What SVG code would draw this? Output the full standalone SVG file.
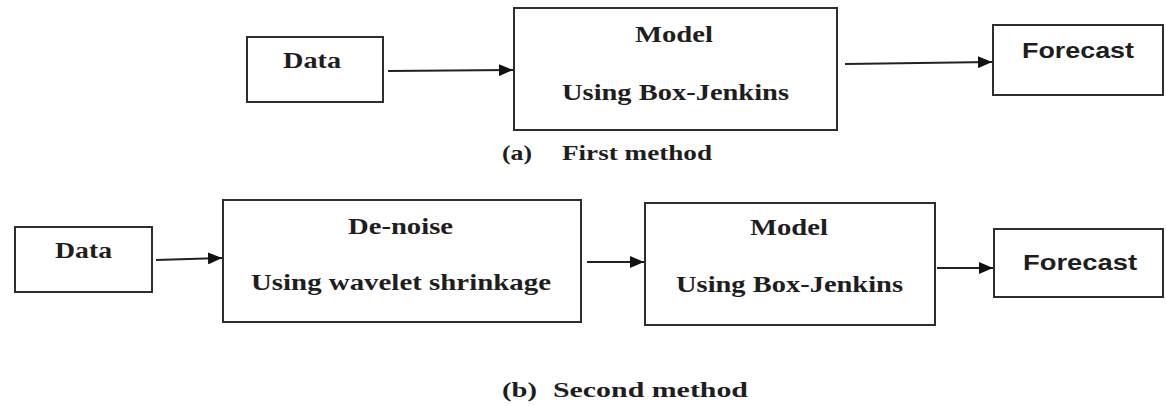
<svg xmlns="http://www.w3.org/2000/svg" width="1166" height="406" viewBox="0 0 1166 406">
  <style>
    .box { fill: #ffffff; stroke: #2e2e2e; stroke-width: 2; }
    .lbl { font-family: "Liberation Serif", "Times New Roman", serif; font-weight: bold; font-size: 23.5px; fill: #1e1e1e; }
    .sans { font-family: "Liberation Sans", Arial, sans-serif; font-weight: bold; font-size: 22.5px; fill: #1e1e1e; }
    .cap { font-family: "Liberation Serif", "Times New Roman", serif; font-weight: bold; font-size: 21px; fill: #1e1e1e; }
    .edge { stroke: #222222; stroke-width: 2; fill: none; marker-end: url(#arrow); }
  </style>
  <defs>
    <marker id="arrow" viewBox="0 0 14 12" refX="14" refY="6" markerWidth="14" markerHeight="12" markerUnits="userSpaceOnUse" orient="auto">
      <path d="M0,0 L14,6 L0,12 Z" fill="#111111"/>
    </marker>
  </defs>
  <rect width="1166" height="406" fill="#ffffff"/>

  <!-- first method: Data -> Model -> Forecast -->
  <g id="a-data">
    <rect class="box" x="247" y="37" width="136" height="65"/>
    <text class="lbl" x="283" y="68" textLength="58" lengthAdjust="spacingAndGlyphs">Data</text>
  </g>
  <g id="a-model">
    <rect class="box" x="514" y="8" width="323" height="122"/>
    <text class="lbl" x="635" y="42" textLength="78" lengthAdjust="spacingAndGlyphs">Model</text>
    <text class="lbl" x="562" y="100" textLength="227" lengthAdjust="spacingAndGlyphs">Using Box-Jenkins</text>
  </g>
  <g id="a-forecast">
    <rect class="box" x="993" y="25" width="170" height="70"/>
    <text class="sans" x="1022" y="58" textLength="112" lengthAdjust="spacingAndGlyphs">Forecast</text>
  </g>
  <g id="a-caption">
    <text class="cap" x="502" y="160" textLength="30" lengthAdjust="spacingAndGlyphs">(a)</text>
    <text class="cap" x="562" y="160" textLength="150" lengthAdjust="spacingAndGlyphs">First method</text>
  </g>

  <!-- second method: Data -> De-noise -> Model -> Forecast -->
  <g id="b-data">
    <rect class="box" x="15" y="227" width="137" height="65"/>
    <text class="lbl" x="55" y="258" textLength="57" lengthAdjust="spacingAndGlyphs">Data</text>
  </g>
  <g id="b-denoise">
    <rect class="box" x="223" y="200" width="358" height="122"/>
    <text class="lbl" x="348" y="234" textLength="105" lengthAdjust="spacingAndGlyphs">De-noise</text>
    <text class="lbl" x="251" y="290" textLength="300" lengthAdjust="spacingAndGlyphs">Using wavelet shrinkage</text>
  </g>
  <g id="b-model">
    <rect class="box" x="645" y="203" width="290" height="122"/>
    <text class="lbl" x="750" y="235" textLength="78" lengthAdjust="spacingAndGlyphs">Model</text>
    <text class="lbl" x="676" y="292" textLength="227" lengthAdjust="spacingAndGlyphs">Using Box-Jenkins</text>
  </g>
  <g id="b-forecast">
    <rect class="box" x="994" y="229" width="169" height="68"/>
    <text class="sans" x="1023" y="270" textLength="114" lengthAdjust="spacingAndGlyphs">Forecast</text>
  </g>
  <g id="b-caption">
    <text class="cap" x="502" y="397" textLength="35" lengthAdjust="spacingAndGlyphs">(b)</text>
    <text class="cap" x="553" y="397" textLength="195" lengthAdjust="spacingAndGlyphs">Second method</text>
  </g>

  <!-- connectors -->
  <g id="connectors">
    <path class="edge" d="M388,71 L513,70"/>
    <path class="edge" d="M845,64 L992,62"/>
    <path class="edge" d="M156,260 L222,258"/>
    <path class="edge" d="M587,262 L644,262"/>
    <path class="edge" d="M937,268 L993,268"/>
  </g>
</svg>
